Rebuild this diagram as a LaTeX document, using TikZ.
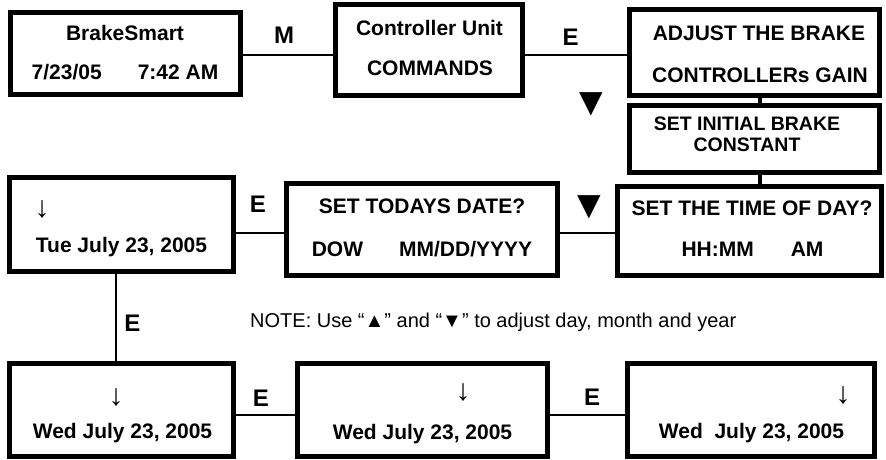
\documentclass[tikz,border=0pt]{standalone}
\usepackage{fontspec}
\setmainfont{Liberation Sans}
\begin{document}
\begin{tikzpicture}[x=1pt,y=-1pt,
  box/.style={draw,line width=5pt,rectangle,inner sep=0pt},
  txt/.style={font=\fontsize{21}{25}\selectfont\bfseries, anchor=base, inner sep=0pt},
  smalltxt/.style={font=\fontsize{19.5}{23}\selectfont\bfseries, anchor=base, inner sep=0pt},
  lbl/.style={font=\fontsize{24}{28}\selectfont\bfseries, anchor=base, inner sep=0pt},
  tri/.style={font=\fontsize{40}{40}\selectfont, inner sep=0pt},
  arr/.style={font=\fontsize{30}{30}\selectfont, inner sep=0pt},
  note/.style={font=\fontsize{20}{24}\selectfont, anchor=base west, inner sep=0pt},
  conn/.style={line width=2pt},
  vconn/.style={line width=4pt}]
\useasboundingbox (0,0) rectangle (886,459);
% boxes
\node[box, minimum width=230pt, minimum height=82pt] (b1) at (125,53) {};
\node[box, minimum width=187.5pt, minimum height=91pt] (b2) at (428.75,49.5) {};
\node[box, minimum width=250.5pt, minimum height=86pt] (b3) at (754.25,52) {};
\node[box, minimum width=250.5pt, minimum height=67.5pt] (b4) at (754.25,138.75) {};
\node[box, minimum width=264pt, minimum height=89pt] (b5) at (749.5,230.5) {};
\node[box, minimum width=271.5pt, minimum height=92pt] (b6) at (421.75,229) {};
\node[box, minimum width=224.5pt, minimum height=93.5pt] (b7) at (121.25,224.25) {};
\node[box, minimum width=224.5pt, minimum height=93pt] (b8) at (121.25,409.5) {};
\node[box, minimum width=249.5pt, minimum height=93pt] (b9) at (422.25,409.5) {};
\node[box, minimum width=246.5pt, minimum height=93pt] (b10) at (750.75,409.5) {};
% texts
\node[txt] (t1a) at (125,40.5) {BrakeSmart};
\node[txt] (t1b) at (125,79) {7/23/05\hspace{36pt}7:42 AM};
\node[txt] (t2a) at (429.5,35) {Controller Unit};
\node[txt] (t2b) at (430,75) {COMMANDS};
\node[txt] (t3a) at (759,40.7) {ADJUST THE BRAKE};
\node[txt] (t3b) at (760,82.7) {CONTROLLERs GAIN};
\node[smalltxt] (t4a) at (747,130) {SET INITIAL BRAKE};
\node[smalltxt] (t4b) at (747,151.5) {CONSTANT};
\node[txt] (t5a) at (752,215) {SET THE TIME OF DAY?};
\node[txt] (t5b) at (752.5,256.5) {HH:MM\hspace{37pt}AM};
\node[txt] (t6a) at (422,213.3) {SET TODAYS DATE?};
\node[txt] (t6b) at (422,256) {DOW\hspace{36pt}MM/DD/YYYY};
\node[arr] (a7) at (42,210) {↓};
\node[txt] (t7) at (121.5,252.7) {Tue July 23, 2005};
\node[arr] (a8) at (116,397.5) {↓};
\node[txt] (t8) at (122.5,438) {Wed July 23, 2005};
\node[arr] (a9) at (463,393) {↓};
\node[txt] (t9) at (422.5,439) {Wed July 23, 2005};
\node[arr] (a10) at (843,395.5) {↓};
\node[txt] (t10) at (751.5,438) {Wed~ July 23, 2005};
% connectors
\draw[conn] ([yshift=-2pt]b1.east) -- ([yshift=-2pt]b1.east -| b2.west);
\draw[conn] ([yshift=-2pt]b1.east -| b2.east) -- ([yshift=-2pt]b1.east -| b3.west);
\draw[vconn] ([xshift=6pt]b3.south) -- ([xshift=6pt]b4.north);
\draw[vconn] ([xshift=6pt]b4.south) -- ([xshift=6pt]b4.south |- b5.north);
\draw[conn] ([yshift=-2.5pt]b5.west) -- ([yshift=-2.5pt]b5.west -| b6.east);
\draw[conn] ([yshift=-2.5pt]b5.west -| b6.west) -- ([yshift=-2.5pt]b5.west -| b7.east);
\draw[conn] ([xshift=-5pt]b7.south) -- ([xshift=-5pt]b8.north);
\draw[conn] ([yshift=-5.5pt]b8.east) -- ([yshift=-5.5pt]b9.west);
\draw[conn] ([yshift=-5.5pt]b9.east) -- ([yshift=-5.5pt]b10.west);
% labels
\node[lbl] (lM) at (284,43) {M};
\node[lbl] (lE1) at (570.5,45) {E};
\node[tri] (v1) at (591,104) {▼};
\node[tri] (v2) at (589,207) {▼};
\node[lbl] (lE2) at (258,212.7) {E};
\node[lbl] (lE3) at (132.5,331) {E};
\node[lbl] (lE4) at (261,406) {E};
\node[lbl] (lE5) at (592,405) {E};
\node[note] (nt) at (250,327) {NOTE: Use “▲” and “▼” to adjust day, month and year};
\end{tikzpicture}
\end{document}
